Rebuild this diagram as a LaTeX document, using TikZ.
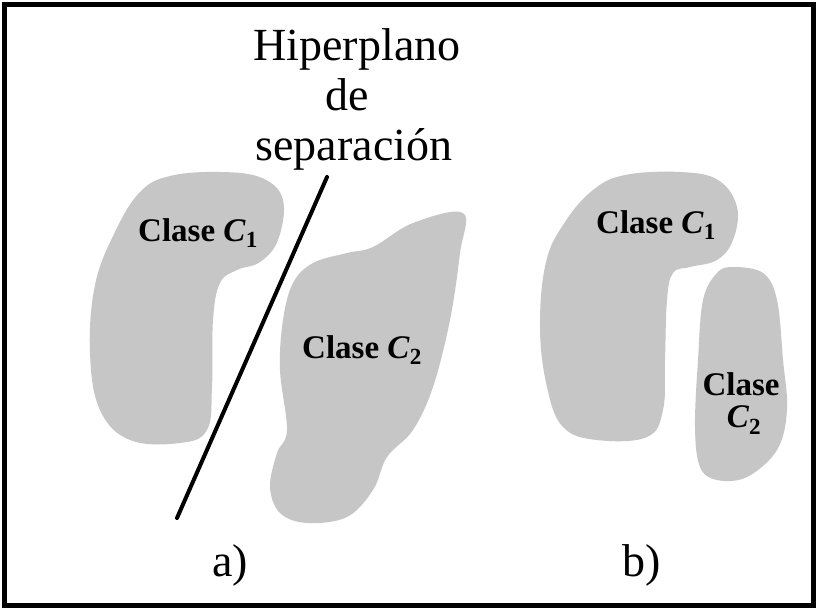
\documentclass[tikz,border=0pt]{standalone}
\usepackage{fontspec}
\setmainfont{Liberation Serif}
\definecolor{blobgray}{RGB}{198,198,198}
\newcommand{\clsC}[1]{\textit{C}\textsubscript{#1}}
\tikzset{
  blob/.style={fill=blobgray, draw=none},
  title/.style={font=\fontsize{46}{50}\selectfont, anchor=base, inner sep=0pt},
  cls/.style={font=\fontsize{33}{34}\selectfont\bfseries, inner sep=0pt, align=center},
  sep/.style={line width=4pt, line cap=round},
  frame/.style={line width=5pt}
}
\begin{document}
\begin{tikzpicture}[x=1pt,y=-1pt]
\useasboundingbox (0,0) rectangle (818,610);
\fill[white] (0,0) rectangle (818,610);
\draw[frame] (4.5,4.5) rectangle (813.5,605.5);

% blob C1 in a)
\fill[blob] plot[smooth cycle, tension=0.65] coordinates {
 (170,176) (220,172) (262,178) (283,200) (278,240) (260,262) (237,270)
 (220,283) (213,320) (212,387) (207,430) (180,443) (130,440) (100,410)
 (90,353) (95,285) (115,232) (140,192)};
% blob C2 in a)
\fill[blob] plot[smooth cycle, tension=0.6] coordinates {
 (463,213) (413,223) (373,247) (347,253) (313,263) (293,283) (283,320)
 (280,370) (287,430) (277,453) (270,487) (280,513) (307,523) (347,517)
 (373,490) (387,457) (413,430) (433,387) (450,320) (460,253)};
% blob C1 in b)
\fill[blob] plot[smooth cycle, tension=0.65] coordinates {
 (625,175) (680,172) (718,180) (737,207) (733,240) (717,260) (690,267)
 (673,273) (667,300) (665,360) (663,410) (647,437) (597,440) (563,427)
 (547,387) (540,327) (546,262) (565,222) (593,190)};
% blob C2 in b)
\fill[blob] plot[smooth cycle, tension=0.6] coordinates {
 (733,267) (763,273) (777,300) (783,360) (787,410) (777,450) (747,477)
 (717,480) (700,467) (695,427) (698,360) (703,300) (717,273)};

% separating hyperplane
\coordinate (septop) at (327,177);
\coordinate (sepbot) at (177,518);
\draw[sep] (septop) -- (sepbot);

% title
\node[title] (t1) at (357,60) {Hiperplano};
\node[title] (t2) at (347,110) {de};
\node[title] (t3) at (354,160) {separación};

% class labels
\node[cls] (a1) at (198,233) {Clase \clsC{1}};
\node[cls] (a2) at (362,350) {Clase \clsC{2}};
\node[cls] (b1) at (656,225) {Clase \clsC{1}};
\node[cls] (b2a) at (741,384) {Clase};
\node[cls] (b2b) at (744,420) {\clsC{2}};

% panel labels
\node[title] (la) at (230,576) {a)};
\node[title] (lb) at (642,576) {b)};
\end{tikzpicture}
\end{document}
